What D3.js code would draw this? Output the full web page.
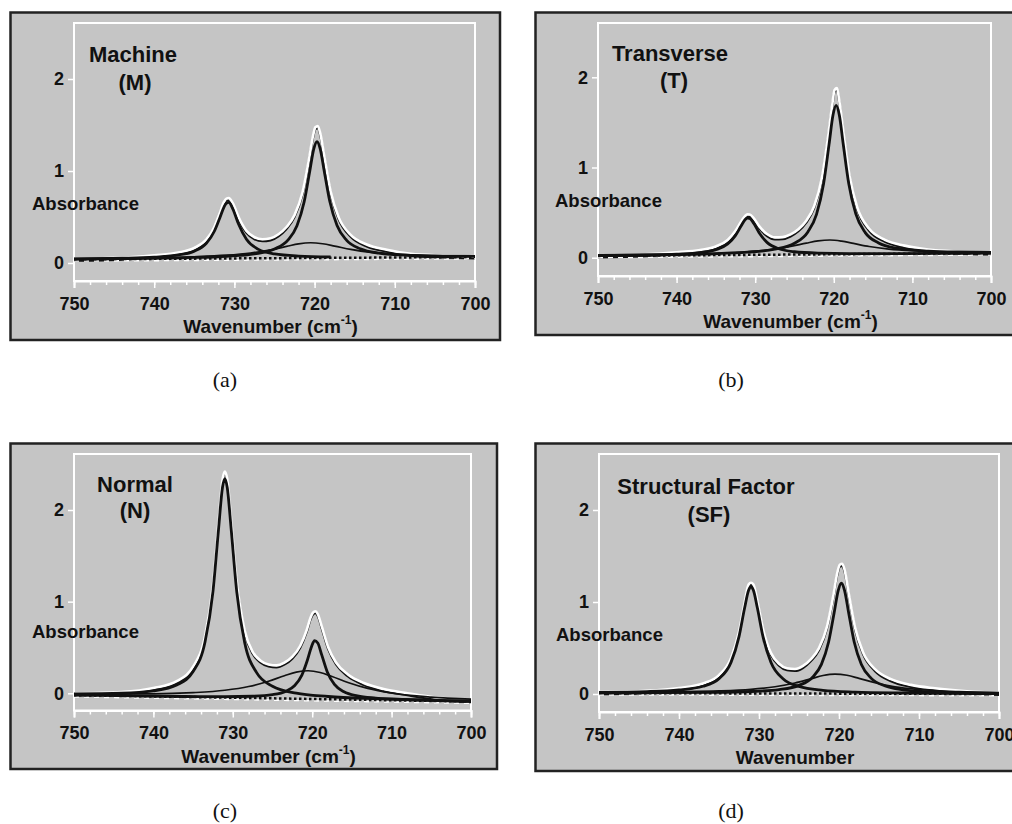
<!DOCTYPE html>
<html>
<head>
<meta charset="utf-8">
<script src="https://cdn.jsdelivr.net/npm/d3@7"></script>
<style>
  html, body { margin: 0; padding: 0; background: #ffffff; }
  svg { display: block; }
</style>
</head>
<body>
<svg id="chart" width="1012" height="824"></svg>
<script>
// ---------------- DATA ----------------
const xTickLabels = [750, 740, 730, 720, 710, 700];
const yTickLabels = [0, 1, 2];

// Wavenumber grids (cm-1)
const gridC1    = [750, 744, 740, 737, 735, 733.5, 732.5, 731.8, 731.3, 731, 730.7, 730.2, 729.5, 728.5, 727, 725, 722, 718, 712, 706, 700];
const gridC2    = [750, 742, 736, 731, 727.5, 725, 723.3, 722.2, 721.3, 720.6, 720.1, 719.7, 719.3, 718.8, 718.1, 717.2, 716, 714.3, 712, 708, 704, 700];
const gridBroad = [750, 740, 735, 731, 728, 725.5, 723.5, 722, 720.5, 719, 717.5, 715.5, 713, 710, 705, 700];
const gridMeas  = [750, 744, 740, 737, 735, 733.5, 732.5, 731.8, 731.3, 731, 730.7, 730.2, 729.5, 728.5, 727.5, 726.5, 725.5, 724.5, 723.5, 722.5, 721.5, 720.7, 720.2, 719.9, 719.6, 719.3, 718.8, 718, 717, 715.5, 713.5, 711, 708, 704, 700];
const gridBase  = [750, 700];

// (a) Machine
const machineC1    = [0.045, 0.052, 0.064, 0.087, 0.129, 0.214, 0.345, 0.495, 0.608, 0.650, 0.658, 0.589, 0.426, 0.258, 0.148, 0.098, 0.075, 0.066, null, null, null];
const machineC2    = [0.043, 0.050, 0.058, 0.073, 0.099, 0.152, 0.251, 0.405, 0.666, 1.001, 1.241, 1.320, 1.241, 1.001, 0.668, 0.407, 0.246, 0.154, 0.108, 0.083, 0.075, 0.073];
const machineBroad = [0.046, 0.057, 0.068, 0.085, 0.109, 0.143, 0.180, 0.208, 0.220, 0.209, 0.184, 0.148, 0.116, 0.096, 0.081, 0.076];
const machineMeas  = [0.046, 0.058, 0.084, 0.113, 0.163, 0.255, 0.392, 0.547, 0.664, 0.700, 0.705, 0.650, 0.502, 0.349, 0.280, 0.258, 0.268, 0.312, 0.391, 0.520, 0.771, 1.129, 1.380, 1.476, 1.489, 1.411, 1.164, 0.777, 0.496, 0.306, 0.201, 0.144, 0.100, 0.082, 0.072];
const machineBase  = [0.04, 0.065];

// (b) Transverse
const transverseC1    = [0.023, 0.030, 0.040, 0.057, 0.089, 0.153, 0.248, 0.351, 0.420, 0.440, 0.436, 0.382, 0.277, 0.170, 0.099, 0.066, 0.051, 0.046, 0.046, 0.048, 0.051];
const transverseC2    = [0.024, 0.032, 0.043, 0.061, 0.094, 0.160, 0.286, 0.481, 0.820, 1.259, 1.581, 1.688, 1.581, 1.260, 0.822, 0.485, 0.278, 0.163, 0.105, 0.073, 0.063, 0.060];
const transverseBroad = [0.025, 0.038, 0.049, 0.066, 0.090, 0.124, 0.161, 0.186, 0.196, 0.183, 0.158, 0.124, 0.096, 0.077, 0.064, 0.060];
const transverseMeas  = [0.026, 0.038, 0.061, 0.086, 0.125, 0.197, 0.299, 0.400, 0.460, 0.480, 0.478, 0.440, 0.350, 0.262, 0.225, 0.228, 0.258, 0.315, 0.410, 0.571, 0.892, 1.358, 1.694, 1.860, 1.880, 1.738, 1.409, 0.906, 0.552, 0.320, 0.198, 0.134, 0.090, 0.068, 0.058];
const transverseBase  = [0.02, 0.05];

// (c) Normal
const normalC1    = [-0.006, 0.001, 0.027, 0.094, 0.237, 0.559, 1.110, 1.787, 2.246, 2.343, 2.245, 1.785, 1.106, 0.552, 0.226, 0.077, 0.001, -0.035, -0.059, -0.074, -0.085];
const normalC2    = [-0.019, -0.029, -0.035, -0.037, -0.032, -0.015, 0.023, 0.085, 0.199, 0.363, 0.506, 0.574, 0.549, 0.419, 0.233, 0.097, 0.017, -0.028, -0.052, -0.070, -0.079, -0.087];
const normalBroad = [-0.007, -0.006, 0.007, 0.033, 0.074, 0.132, 0.192, 0.231, 0.246, 0.227, 0.183, 0.118, 0.053, 0.003, -0.041, -0.064];
const normalMeas  = [0.000, 0.015, 0.058, 0.136, 0.290, 0.622, 1.183, 1.867, 2.331, 2.420, 2.338, 1.885, 1.218, 0.683, 0.453, 0.356, 0.315, 0.305, 0.335, 0.400, 0.519, 0.688, 0.828, 0.880, 0.895, 0.865, 0.730, 0.506, 0.336, 0.205, 0.112, 0.046, 0.001, -0.050, -0.075];
const normalBase  = [-0.02, -0.09];

// (d) Structural Factor
const sfC1    = [0.018, 0.026, 0.044, 0.084, 0.167, 0.344, 0.624, 0.935, 1.127, 1.166, 1.127, 0.934, 0.623, 0.343, 0.166, 0.082, 0.040, 0.021, 0.011, 0.006, 0.003];
const sfC2    = [0.013, 0.014, 0.017, 0.027, 0.048, 0.094, 0.182, 0.322, 0.565, 0.886, 1.124, 1.204, 1.124, 0.886, 0.565, 0.321, 0.173, 0.089, 0.046, 0.021, 0.012, 0.007];
const sfBroad = [0.017, 0.024, 0.033, 0.051, 0.079, 0.120, 0.166, 0.201, 0.217, 0.204, 0.170, 0.122, 0.078, 0.049, 0.025, 0.014];
const sfMeas  = [0.020, 0.035, 0.066, 0.115, 0.205, 0.390, 0.676, 0.993, 1.190, 1.210, 1.190, 1.009, 0.707, 0.444, 0.329, 0.280, 0.272, 0.305, 0.379, 0.498, 0.733, 1.075, 1.322, 1.405, 1.415, 1.350, 1.102, 0.725, 0.455, 0.270, 0.161, 0.099, 0.062, 0.030, 0.012];
const sfBase  = [0.01, 0.0];

const titles      = [["Machine", "(M)"], ["Transverse", "(T)"], ["Normal", "(N)"], ["Structural Factor", "(SF)"]];
const axisTitles  = ["Wavenumber (cm|-1|)", "Wavenumber (cm|-1|)", "Wavenumber (cm|-1|)", "Wavenumber"];
const panelLabels = ["(a)", "(b)", "(c)", "(d)"];
const yLabel      = "Absorbance";

// ---------------- LAYOUT ----------------
const layouts = [
  { box: [10.5, 12.5, 500, 340], x0: 74, x1: 475, top: 23, axis: 281, y0: 263, y2: 79,
    t1: [133, 62], t2: [135, 90], ab: [32, 210], lab: [225, 387] },
  { box: [535.5, 12.5, 1030, 335], x0: 598, x1: 991, top: 23, axis: 276, y0: 257.7, y2: 77.3,
    t1: [670, 61], t2: [674, 88], ab: [555, 207], lab: [731, 387] },
  { box: [10.5, 443.5, 497, 769], x0: 74, x1: 471, top: 454, axis: 710.5, y0: 693.3, y2: 510,
    t1: [135, 492], t2: [135, 518], ab: [32, 638], lab: [225, 818] },
  { box: [535.5, 443.5, 1030, 771], x0: 599, x1: 999, top: 454, axis: 712, y0: 694, y2: 510,
    t1: [706, 494], t2: [709, 522], ab: [556, 641], lab: [731, 818] }
];

const datasets = [
  { c1: machineC1, c2: machineC2, br: machineBroad, meas: machineMeas, base: machineBase },
  { c1: transverseC1, c2: transverseC2, br: transverseBroad, meas: transverseMeas, base: transverseBase },
  { c1: normalC1, c2: normalC2, br: normalBroad, meas: normalMeas, base: normalBase },
  { c1: sfC1, c2: sfC2, br: sfBroad, meas: sfMeas, base: sfBase }
];

const BG = "#c5c5c5";
const SANS = "'Liberation Sans', Arial, Helvetica, sans-serif";
const SERIF = "'Liberation Serif', 'Times New Roman', serif";

const svg = d3.select("#chart");

function pts(grid, vals) { return grid.map((x, i) => ({ x: x, v: vals[i] })); }

layouts.forEach((L, i) => {
  const D = datasets[i];
  const g = svg.append("g");

  // outer box
  g.append("rect")
    .attr("x", L.box[0]).attr("y", L.box[1])
    .attr("width", L.box[2] - L.box[0]).attr("height", L.box[3] - L.box[1])
    .attr("fill", BG).attr("stroke", "#222").attr("stroke-width", 2.5);

  const x = d3.scaleLinear().domain([750, 700]).range([L.x0, L.x1]);
  const y = d3.scaleLinear().domain([0, 2]).range([L.y0, L.y2]);

  // frame
  g.append("rect")
    .attr("x", L.x0).attr("y", L.top)
    .attr("width", L.x1 - L.x0).attr("height", L.axis - L.top)
    .attr("fill", "none").attr("stroke", "#ffffff").attr("stroke-width", 2);

  // y axis
  const ya = g.append("g").attr("transform", `translate(${L.x0},0)`)
    .call(d3.axisLeft(y).tickValues(yTickLabels).tickFormat(d3.format("d")).tickSize(6).tickPadding(4));
  ya.select(".domain").remove();
  ya.selectAll(".tick line").attr("stroke", "#fff").attr("stroke-width", 1.5);
  ya.selectAll(".tick text").attr("fill", "#111").style("font-family", SANS)
    .style("font-size", "18px").style("font-weight", "bold");

  // x axis minor ticks
  const xm = g.append("g").attr("transform", `translate(0,${L.axis})`)
    .call(d3.axisBottom(x).tickValues(d3.range(700, 751, 2)).tickFormat("").tickSize(4));
  xm.select(".domain").remove();
  xm.selectAll(".tick line").attr("stroke", "#fff").attr("stroke-width", 1.5);

  // x axis major ticks
  const xa = g.append("g").attr("transform", `translate(0,${L.axis})`)
    .call(d3.axisBottom(x).tickValues(xTickLabels).tickFormat(d3.format("d")).tickSize(7).tickPadding(9));
  xa.select(".domain").attr("stroke", "#fff").attr("stroke-width", 2);
  xa.selectAll(".tick line").attr("stroke", "#fff").attr("stroke-width", 1.5);
  xa.selectAll(".tick text").attr("fill", "#111").style("font-family", SANS)
    .style("font-size", "18px").style("font-weight", "bold");

  const line = d3.line()
    .defined(d => d.v !== null)
    .x(d => x(d.x)).y(d => y(d.v))
    .curve(d3.curveMonotoneX);

  // fit curve (black, just under measured)
  g.append("path").datum(pts(gridMeas, D.meas))
    .attr("d", line).attr("fill", "none").attr("stroke", "#111").attr("stroke-width", 2.2)
    .attr("transform", "translate(0,2)");
  // measured spectrum (white)
  g.append("path").datum(pts(gridMeas, D.meas))
    .attr("d", line).attr("fill", "none").attr("stroke", "#fff").attr("stroke-width", 2.6);

  // baseline: white dashes + black dots
  g.append("path").datum(pts(gridBase, D.base))
    .attr("d", line).attr("fill", "none").attr("stroke", "#fff").attr("stroke-width", 1.5)
    .attr("stroke-dasharray", "5,5").attr("transform", "translate(0,1.8)");
  g.append("path").datum(pts(gridBase, D.base))
    .attr("d", line).attr("fill", "none").attr("stroke", "#111").attr("stroke-width", 2.5)
    .attr("stroke-dasharray", "2.5,2.5");

  // components
  g.append("path").datum(pts(gridBroad, D.br))
    .attr("d", line).attr("fill", "none").attr("stroke", "#111").attr("stroke-width", 1.7);
  g.append("path").datum(pts(gridC1, D.c1))
    .attr("d", line).attr("fill", "none").attr("stroke", "#111").attr("stroke-width", 2.8);
  g.append("path").datum(pts(gridC2, D.c2))
    .attr("d", line).attr("fill", "none").attr("stroke", "#111").attr("stroke-width", 2.8);

  // titles
  const tstyle = sel => sel.attr("text-anchor", "middle").attr("fill", "#111")
    .style("font-family", SANS).style("font-size", "22px").style("font-weight", "bold");
  g.append("text").attr("x", L.t1[0]).attr("y", L.t1[1]).text(titles[i][0]).call(tstyle);
  g.append("text").attr("x", L.t2[0]).attr("y", L.t2[1]).text(titles[i][1]).call(tstyle);

  // Absorbance
  g.append("text").attr("x", L.ab[0]).attr("y", L.ab[1]).text(yLabel)
    .attr("fill", "#111").style("font-family", SANS).style("font-size", "18.5px").style("font-weight", "bold");

  // x axis title
  const parts = axisTitles[i].split("|");
  const xt = g.append("text").attr("x", (L.x0 + L.x1) / 2 - 4).attr("y", L.axis + 52)
    .attr("text-anchor", "middle").attr("fill", "#111")
    .style("font-family", SANS).style("font-size", "19px").style("font-weight", "bold");
  xt.append("tspan").text(parts[0]);
  if (parts.length > 1) {
    xt.append("tspan").attr("dy", -9).style("font-size", "12px").text(parts[1]);
    xt.append("tspan").attr("dy", 9).text(parts[2]);
  }

  // panel label
  svg.append("text").attr("x", L.lab[0]).attr("y", L.lab[1]).attr("text-anchor", "middle")
    .attr("fill", "#111").style("font-family", SERIF).style("font-size", "22px").text(panelLabels[i]);
});
</script>
</body>
</html>
